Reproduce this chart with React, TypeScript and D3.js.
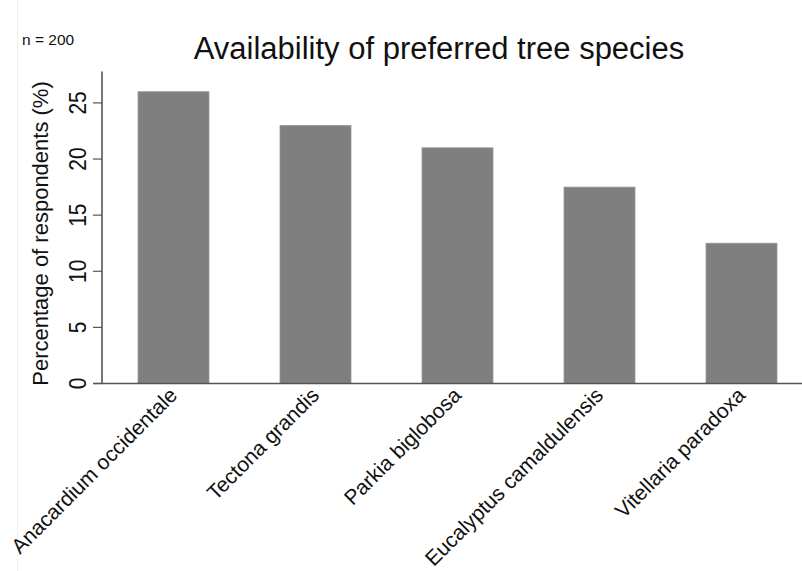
import React from "react";
import * as d3 from "d3";

const categories = [
  "Anacardium occidentale",
  "Tectona grandis",
  "Parkia biglobosa",
  "Eucalyptus camaldulensis",
  "Vitellaria paradoxa",
];
const values = [26, 23, 21, 17.5, 12.5];
const yTicks = [0, 5, 10, 15, 20, 25];
const titleText = "Availability of preferred tree species";
const yLabel = "Percentage of respondents (%)";
const noteText = "n = 200";

const W = 802;
const H = 571;
const FONT = "'Liberation Sans', Arial, Helvetica, sans-serif";

export default function App() {
  const x = d3
    .scaleBand<string>()
    .domain(categories)
    .range([102.5, 812.5])
    .paddingInner(0.5)
    .paddingOuter(0.25);
  const y = d3.scaleLinear().domain([0, 27.8]).range([383.5, 71.5]);
  const axisColor = "#555";

  return (
    <svg
      width={W}
      height={H}
      style={{ position: "absolute", left: 0, top: 0, background: "#fff" }}
      fontFamily={FONT}
    >
      <rect x={0} y={0} width={W} height={H} fill="#fff" />
      <line x1={17.5} x2={17.5} y1={0} y2={H} stroke="#eef3f3" strokeWidth={1} />
      <text x={22} y={45} fontSize={15.5} fill="#111">
        {noteText}
      </text>
      <text x={439} y={59} fontSize={31} textAnchor="middle" fill="#111">
        {titleText}
      </text>
      {categories.map((c, i) => (
        <rect
          key={c}
          x={x(c)}
          y={y(values[i])}
          width={x.bandwidth()}
          height={y(0) - y(values[i])}
          fill="#7f7f7f"
          stroke="#9a9a9a"
          strokeWidth={0.8}
        />
      ))}
      {/* y axis */}
      <line x1={102} x2={102} y1={y(0)} y2={y.range()[1]} stroke={axisColor} strokeWidth={1.6} />
      {yTicks.map((t) => (
        <g key={t}>
          <line x1={93} x2={102} y1={y(t)} y2={y(t)} stroke={axisColor} strokeWidth={1.2} />
          <text
            transform={`translate(86,${y(t)}) rotate(-90) scale(1,1.12)`}
            textAnchor="middle"
            fontSize={21}
            fill="#111"
          >
            {t}
          </text>
        </g>
      ))}
      <text
        transform={`translate(48,${(y(0) + y.range()[1]) / 2 + 6}) rotate(-90)`}
        textAnchor="middle"
        fontSize={22}
        fill="#111"
      >
        {yLabel}
      </text>
      {/* x axis */}
      <line x1={93} x2={802} y1={y(0)} y2={y(0)} stroke={axisColor} strokeWidth={1.6} />
      {categories.map((c) => {
        const cx = (x(c) as number) + x.bandwidth() / 2;
        return (
          <text
            key={c}
            transform={`translate(${cx + 5},${y(0) + 13}) rotate(-45)`}
            textAnchor="end"
            fontSize={21}
            fill="#111"
          >
            {c}
          </text>
        );
      })}
    </svg>
  );
}
